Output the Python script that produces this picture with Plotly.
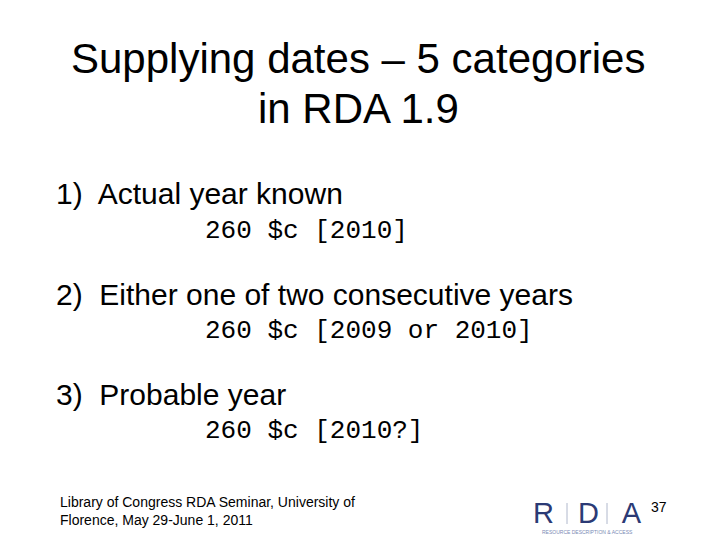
import plotly.graph_objects as go

title_lines = ["Supplying dates – 5 categories", "in RDA 1.9"]
items = ["1)  Actual year known", "2)  Either one of two consecutive years", "3)  Probable year"]
examples = ["260 $c [2010]", "260 $c [2009 or 2010]", "260 $c [2010?]"]
footer = "Library of Congress RDA Seminar, University of<br>Florence, May 29-June 1, 2011"
page = "37"

fig = go.Figure()
fig.update_layout(width=720, height=540, margin=dict(l=0, r=0, t=0, b=0),
                  paper_bgcolor="white", plot_bgcolor="white",
                  xaxis=dict(range=[0, 720], visible=False, fixedrange=True),
                  yaxis=dict(range=[540, 0], visible=False, fixedrange=True),
                  showlegend=False)
ann = []
ann.append(dict(x=350, y=50, text=title_lines[0], font=dict(family="Liberation Sans", size=42, color="black")))
ann.append(dict(x=350, y=100, text=title_lines[1], font=dict(family="Liberation Sans", size=42, color="black")))
item_y = [185, 286, 386]
ex_y = [223, 323, 423]
for t, y in zip(items, item_y):
    ann.append(dict(x=46, y=y, text=t, xanchor="left", font=dict(family="Liberation Sans", size=30, color="black")))
for t, y in zip(examples, ex_y):
    ann.append(dict(x=195, y=y, text=t, xanchor="left", font=dict(family="Liberation Mono", size=26, color="black")))
ann.append(dict(x=50, y=503, text=footer, xanchor="left", align="left", font=dict(family="Liberation Sans", size=14, color="black")))
ann.append(dict(x=641, y=499, text=page, xanchor="left", font=dict(family="Liberation Sans", size=14, color="black")))
ann.append(dict(x=579, y=505, text="R   D   A", font=dict(family="Liberation Sans", size=29, color="#2b3a75")))
ann.append(dict(x=579, y=524, text="RESOURCE DESCRIPTION & ACCESS", font=dict(family="Liberation Sans", size=5, color="#7b8bb5")))
for a in ann:
    a.update(xref="x", yref="y", showarrow=False, yanchor="middle")
    a.setdefault("xanchor", "center")
fig.update_layout(annotations=ann)
for x in [559, 599]:
    fig.add_shape(type="line", x0=x, x1=x, y0=495, y1=516, line=dict(color="#b0b8cc", width=1), xref="x", yref="y")
fig.write_html("out.html")
